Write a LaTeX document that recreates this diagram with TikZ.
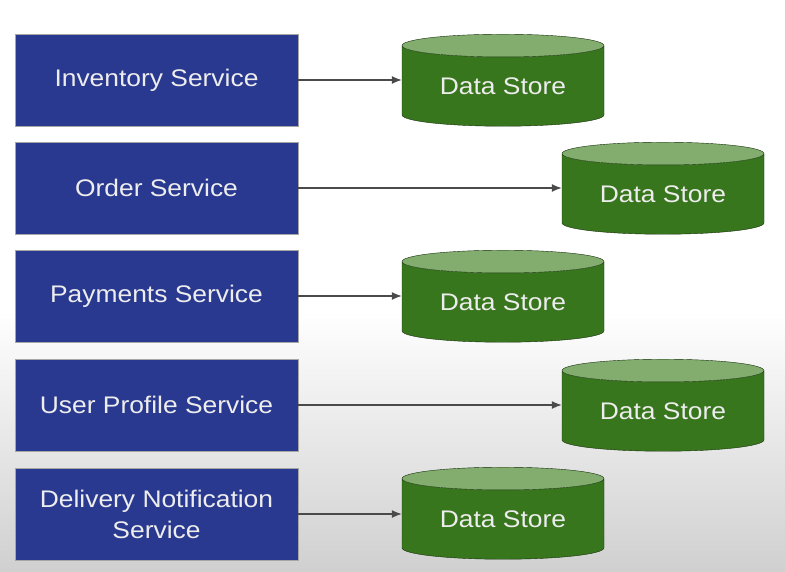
\documentclass[tikz,border=0pt]{standalone}
\usepackage{fontspec}
\setmainfont{Liberation Sans}[FakeStretch=1.1]
\usetikzlibrary{shapes.geometric,arrows.meta}
\definecolor{svcblue}{HTML}{2A3990}
\definecolor{storegreen}{HTML}{38761D}
\definecolor{storetop}{HTML}{82AD6E}
\definecolor{linegray}{HTML}{4A4A4A}
\definecolor{labelwhite}{HTML}{EDEDED}
\tikzset{
  service/.style={draw=gray!70, fill=svcblue, text=labelwhite, minimum width=283pt,
    minimum height=92pt, align=center, inner sep=0pt, font=\fontsize{24}{31}\selectfont},
  store/.style={cylinder, shape border rotate=90, aspect=0.18, draw=black!60!storegreen,
    cylinder uses custom fill, cylinder body fill=storegreen, cylinder end fill=storetop,
    minimum width=202pt, minimum height=92pt, inner sep=0pt, text=labelwhite,
    font=\fontsize{24}{28}\selectfont},
  link/.style={-{Latex[length=10pt,width=8pt]}, linegray, line width=1.3pt}
}
\begin{document}
\begin{tikzpicture}[x=1pt, y=-1pt]
    \useasboundingbox (0,0) rectangle (785,571);
    % Background
    \fill[white] (0,0) rectangle (785,310);
    \shade[top color=white, bottom color=gray!37] (0,310) rectangle (785,571);

    % Services
    \node[service] (inventory) at (156.5,80) {Inventory Service};
    \node[service] (order) at (156.5,188) {Order Service};
    \node[service] (payments) at (156.5,296) {Payments Service};
    \node[service] (profile) at (156.5,405) {User Profile Service};
    \node[service] (delivery) at (156.5,514) {Delivery Notification\\Service};

    % Data stores
    \node[store] (store1) at (503,86) {Data Store};
    \node[store] (store2) at (663,194) {Data Store};
    \node[store] (store3) at (503,302) {Data Store};
    \node[store] (store4) at (663,411) {Data Store};
    \node[store] (store5) at (503,519) {Data Store};

    % Arrows
    \draw[link] (inventory.east) -- (inventory.east -| store1.west);
    \draw[link] (order.east) -- (order.east -| store2.west);
    \draw[link] (payments.east) -- (payments.east -| store3.west);
    \draw[link] (profile.east) -- (profile.east -| store4.west);
    \draw[link] (delivery.east) -- (delivery.east -| store5.west);
\end{tikzpicture}
\end{document}
